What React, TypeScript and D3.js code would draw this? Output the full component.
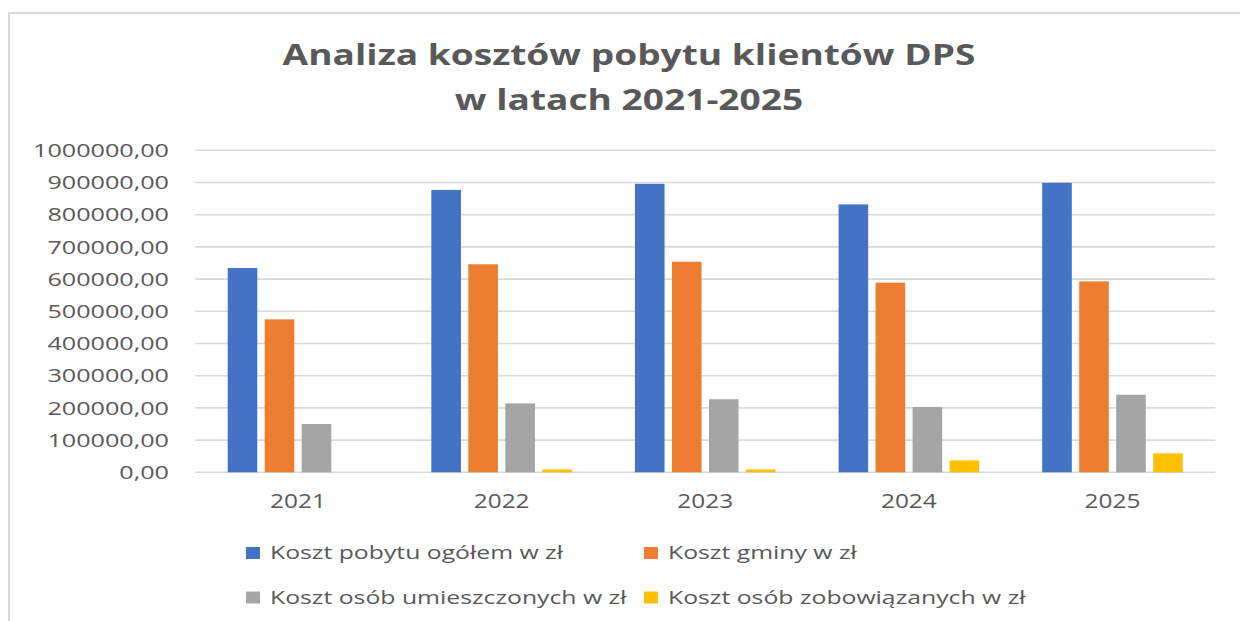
import React from "react";
import * as d3 from "d3";

const years = ["2021", "2022", "2023", "2024", "2025"];
const seriesNames = [
  "Koszt pobytu ogółem w zł",
  "Koszt gminy w zł",
  "Koszt osób umieszczonych w zł",
  "Koszt osób zobowiązanych w zł",
];
const totalCost = [634500, 877000, 896000, 832000, 899000];
const gminaCost = [475000, 646000, 654000, 589000, 593000];
const residentsCost = [150000, 214000, 227000, 203000, 241000];
const obligedCost = [0, 9000, 9000, 37000, 59000];
const yTicks = [0, 100000, 200000, 300000, 400000, 500000, 600000, 700000, 800000, 900000, 1000000];
const colors = ["#4472C4", "#ED7D31", "#A5A5A5", "#FFC000"];
const titleLines = ["Analiza kosztów pobytu klientów DPS", "w latach 2021-2025"];

const allSeries = [totalCost, gminaCost, residentsCost, obligedCost];

const FONT = "'Open Sans', 'DejaVu Sans', sans-serif";
const TXT = "#595959";

export default function App() {
  const plotLeft = 196.2;
  const plotRight = 1214.3;
  const y = d3.scaleLinear().domain([0, 1000000]).range([472.3, 150.3]);
  const groupW = 148;
  const step = (plotRight - plotLeft) / years.length;
  const p = 1 - groupW / step;
  const x0 = d3.scaleBand<string>().domain(years).range([plotLeft, plotRight]).paddingInner(p).paddingOuter(p / 2);
  const x1 = d3.scaleBand<string>().domain(seriesNames).range([0, x0.bandwidth()]).paddingInner(0.2).paddingOuter(0.1);
  const fmt = (v: number) => d3.format(".2f")(v).replace(".", ",");

  const legendItems = [
    { col: 245, row: 553, idx: 0 },
    { col: 643, row: 553, idx: 1 },
    { col: 245, row: 597.5, idx: 2 },
    { col: 643, row: 597.5, idx: 3 },
  ];

  return (
    <svg width={1240} height={621} style={{ position: "absolute", left: 0, top: 0, background: "#fff" }}>
      <rect x={0} y={0} width={1240} height={621} fill="#fff" />
      <rect x={9} y={13} width={1400} height={800} fill="none" stroke="#d9d9d9" strokeWidth={2} />
      {titleLines.map((t, i) => (
        <text
          key={i}
          transform={`translate(629, ${i === 0 ? 65 : 109.5}) scale(1.325,1)`}
          textAnchor="middle"
          fontFamily={FONT}
          fontWeight={700}
          fontSize={28}
          fill={TXT}
        >
          {t}
        </text>
      ))}
      {yTicks.map((t) => (
        <g key={t}>
          <line x1={plotLeft - 1} x2={plotRight + 1} y1={y(t)} y2={y(t)} stroke="#d9d9d9" strokeWidth={1.6} />
          <text
            transform={`translate(169, ${y(t) + 6.6}) scale(1.36,1)`}
            textAnchor="end"
            fontFamily={FONT}
            fontSize={18.5}
            fill={TXT}
          >
            {fmt(t)}
          </text>
        </g>
      ))}
      {years.map((yr, i) => (
        <g key={yr}>
          {allSeries.map((s, si) => {
            const v = s[i];
            if (v <= 0) return null;
            return (
              <rect
                key={si}
                x={(x0(yr) as number) + (x1(seriesNames[si]) as number)}
                y={y(v)}
                width={x1.bandwidth()}
                height={y(0) - y(v)}
                fill={colors[si]}
              />
            );
          })}
          <text
            transform={`translate(${(x0(yr) as number) + x0.bandwidth() / 2}, 508) scale(1.22,1)`}
            textAnchor="middle"
            fontFamily={FONT}
            fontSize={20}
            fill={TXT}
          >
            {yr}
          </text>
        </g>
      ))}
      {legendItems.map((it) => (
        <g key={it.idx}>
          <rect x={it.col + 1} y={it.row - 6} width={14} height={12} fill={colors[it.idx]} />
          <text
            transform={`translate(${it.col + 25}, ${it.row + 6.3}) scale(1.40,1)`}
            fontFamily={FONT}
            fontSize={17.7}
            fill={TXT}
          >
            {seriesNames[it.idx]}
          </text>
        </g>
      ))}
    </svg>
  );
}
